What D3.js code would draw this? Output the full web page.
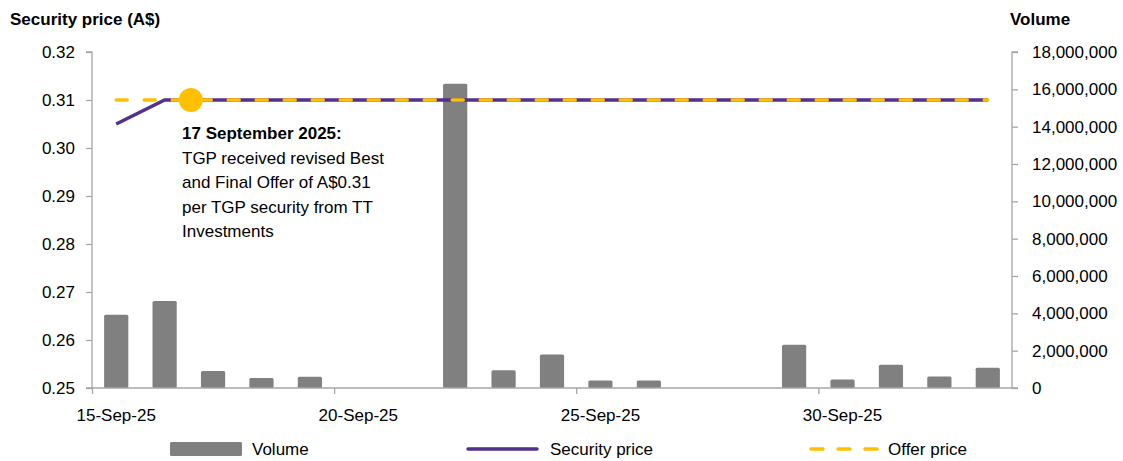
<!DOCTYPE html>
<html>
<head>
<meta charset="utf-8">
<script src="https://cdn.jsdelivr.net/npm/d3@7"></script>
<style>
  html, body { margin: 0; padding: 0; background: #fff; }
  svg { display: block; font-family: "Liberation Sans", Arial, sans-serif; }
</style>
</head>
<body>
<svg id="chart" width="1123" height="461"></svg>
<script>
// ---- data ----
const tradingDays = ["2025-09-15","2025-09-16","2025-09-17","2025-09-18","2025-09-19",
  "2025-09-22","2025-09-23","2025-09-24","2025-09-25","2025-09-26",
  "2025-09-29","2025-09-30","2025-10-01","2025-10-02","2025-10-03"];
const volumes = [3930000, 4660000, 910000, 540000, 600000,
  16300000, 950000, 1800000, 400000, 400000,
  2320000, 450000, 1250000, 610000, 1090000];
const securityPrice = [0.305, 0.31, 0.31, 0.31, 0.31,
  0.31, 0.31, 0.31, 0.31, 0.31,
  0.31, 0.31, 0.31, 0.31, 0.31];
const offerPrice = [0.31, 0.31, 0.31, 0.31, 0.31,
  0.31, 0.31, 0.31, 0.31, 0.31,
  0.31, 0.31, 0.31, 0.31, 0.31];
const xTickDates = ["2025-09-15","2025-09-20","2025-09-25","2025-09-30"];
const priceTicks = [0.25, 0.26, 0.27, 0.28, 0.29, 0.30, 0.31, 0.32];
const volumeTicks = [0, 2000000, 4000000, 6000000, 8000000, 10000000, 12000000, 14000000, 16000000, 18000000];
const annotationDate = "2025-09-17";
const annotationPrice = 0.31;
const annotationTitle = "17 September 2025:";
const annotationLines = ["TGP received revised Best", "and Final Offer of A$0.31", "per TGP security from TT", "Investments"];
const leftTitle = "Security price (A$)";
const rightTitle = "Volume";
const legendLabels = ["Volume", "Security price", "Offer price"];

// ---- setup ----
const parse = d3.utcParse("%Y-%m-%d");
const DAY = 86400000;
const days = tradingDays.map(parse);
const mid = d => new Date(d.getTime() + DAY / 2);

const svg = d3.select("#chart");
const pL = 92, pR = 1012, pT = 52, pB = 388;
const font = 17;
const axisColor = "#a6a6a6";
const gold = "#ffc000", purple = "#51318a", gray = "#808080";

const x = d3.scaleUtc()
  .domain([parse("2025-09-15"), parse("2025-10-04")])
  .range([pL, pR]);
const yP = d3.scaleLinear().domain([0.25, 0.32]).range([pB, pT]);
const yV = d3.scaleLinear().domain([0, 18000000]).range([pB, pT]);

// ---- bars ----
const slot = x(parse("2025-09-16")) - x(parse("2025-09-15"));
const bw = slot * 0.5;
svg.append("g").selectAll("rect").data(days).join("rect")
  .attr("x", (d) => x(mid(d)) - bw / 2)
  .attr("y", (d, i) => yV(volumes[i]))
  .attr("width", bw)
  .attr("height", (d, i) => yV(0) - yV(volumes[i]))
  .attr("rx", 1.5)
  .attr("fill", gray);

// ---- axes ----
const gx = svg.append("g").attr("transform", `translate(0,${pB})`)
  .call(d3.axisBottom(x).tickValues(xTickDates.map(parse)).tickSize(6).tickFormat(""));
const gl = svg.append("g").attr("transform", `translate(${pL},0)`)
  .call(d3.axisLeft(yP).tickValues(priceTicks).tickSize(6).tickPadding(11).tickFormat(d3.format(".2f")));
const gr = svg.append("g").attr("transform", `translate(${pR},0)`)
  .call(d3.axisRight(yV).tickValues(volumeTicks).tickSize(6).tickPadding(14).tickFormat(d3.format(",")));
[gx, gl, gr].forEach(g => {
  g.select(".domain").attr("stroke", axisColor).attr("stroke-width", 1.3);
  g.selectAll(".tick line").attr("stroke", axisColor).attr("stroke-width", 1.3);
  g.selectAll("text").attr("font-size", font).attr("fill", "#000").attr("font-family", "Liberation Sans, Arial, sans-serif");
});
gl.select(".domain").attr("d", `M-6,${pT}H0V${pB}H-6`);
gr.select(".domain").attr("d", `M6,${pT}H0V${pB}H6`);
gx.select(".domain").attr("d", `M${pL},0H${pR}`);

// x labels at the middle of each tick day
svg.append("g").selectAll("text").data(xTickDates.map(parse)).join("text")
  .attr("x", d => x(mid(d)))
  .attr("y", 421)
  .attr("text-anchor", "middle")
  .attr("font-size", font)
  .text(d3.utcFormat("%-d-%b-%y"));

// titles
svg.append("text").attr("x", 10).attr("y", 25).attr("font-size", font).attr("font-weight", "bold").text(leftTitle);
svg.append("text").attr("x", 1010).attr("y", 25).attr("font-size", font).attr("font-weight", "bold").text(rightTitle);

// ---- lines ----
const priceLine = d3.line().x(d => x(mid(d))).y((d, i) => yP(securityPrice[i]));
svg.append("path").datum(days).attr("d", priceLine)
  .attr("fill", "none").attr("stroke", purple).attr("stroke-width", 3.5);

const offerLine = d3.line().x(d => x(mid(d))).y((d, i) => yP(offerPrice[i]));
svg.append("path").datum(days).attr("d", offerLine)
  .attr("fill", "none").attr("stroke", gold).attr("stroke-width", 3.5)
  .attr("stroke-dasharray", "11,17").attr("stroke-linecap", "round");

// ---- annotation ----
const ax = x(parse(annotationDate)) + 2;
svg.append("circle").attr("cx", ax).attr("cy", yP(annotationPrice)).attr("r", 12).attr("fill", gold);
const ta = svg.append("text").attr("font-size", font);
ta.append("tspan").attr("x", 182).attr("y", 139).attr("font-weight", "bold").text(annotationTitle);
annotationLines.forEach((t, i) => {
  ta.append("tspan").attr("x", 182).attr("y", 163.5 + i * 24.5).text(t);
});

// ---- legend ----
const ly = 449;
const lg = svg.append("g");
lg.append("rect").attr("x", 170).attr("y", ly - 7).attr("width", 72).attr("height", 14).attr("rx", 1.5).attr("fill", gray);
lg.append("text").attr("x", 252).attr("y", ly + 6).attr("font-size", font).text(legendLabels[0]);
lg.append("line").attr("x1", 468).attr("x2", 537).attr("y1", ly).attr("y2", ly)
  .attr("stroke", purple).attr("stroke-width", 3.5).attr("stroke-linecap", "round");
lg.append("text").attr("x", 550).attr("y", ly + 6).attr("font-size", font).text(legendLabels[1]);
lg.append("line").attr("x1", 811).attr("x2", 880).attr("y1", ly).attr("y2", ly)
  .attr("stroke", gold).attr("stroke-width", 3.5).attr("stroke-linecap", "round")
  .attr("stroke-dasharray", "12,15");
lg.append("text").attr("x", 888).attr("y", ly + 6).attr("font-size", font).text(legendLabels[2]);
</script>
</body>
</html>
